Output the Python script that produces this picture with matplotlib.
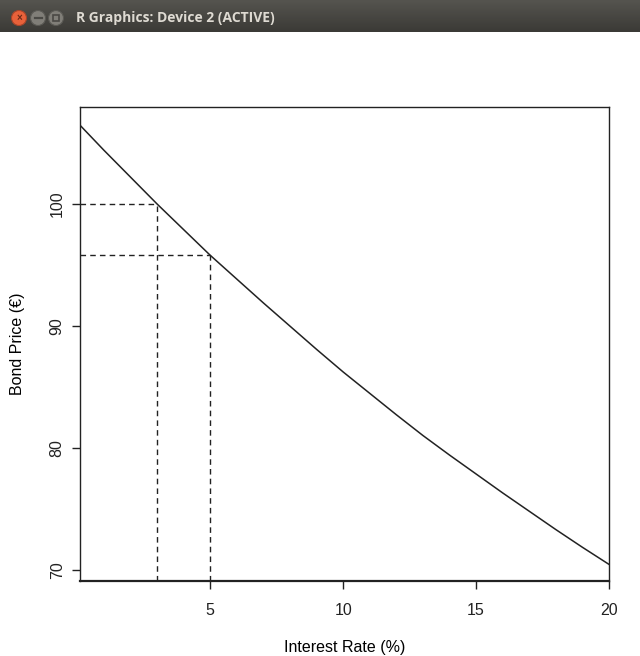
import numpy as np
import matplotlib.pyplot as plt
from matplotlib.patches import Circle

plt.rcParams['font.family'] = ['Liberation Sans', 'DejaVu Sans']

# bond price curve
rate = [0.1, 1, 2, 3, 4, 5, 6, 7, 8, 9, 10, 11, 12, 13, 14, 15, 16, 17, 18, 19, 20]
price = [106.45, 104.4, 102.2, 100.0, 97.9, 95.8, 93.85, 91.9, 90.0, 88.1, 86.25,
         84.5, 82.75, 81.05, 79.45, 77.9, 76.35, 74.85, 73.35, 71.9, 70.5]

# the two marked points (rate, price)
mark_rate = [3, 5]
mark_price = [100.0, 95.8]

x_ticks = [5, 10, 15, 20]
y_ticks = [70, 80, 90, 100]

W, H = 640, 656
fig = plt.figure(figsize=(W / 100, H / 100), dpi=100)
fig.patch.set_facecolor('white')

# window title bar
bar_h = 32
tb = fig.add_axes([0, 1 - bar_h / H, 1, bar_h / H])
tb.set_xlim(0, W)
tb.set_ylim(bar_h, 0)
grad = np.linspace(0, 1, 50).reshape(-1, 1)
tb.imshow(grad, extent=[0, W, bar_h, 0], aspect='auto',
          cmap=plt.matplotlib.colors.LinearSegmentedColormap.from_list('tb', ['#55544f', '#3b3a36']))
tb.add_patch(Circle((19, 18), 7.5, color='#e8613a', ec='#a8452a', lw=0.8))
tb.add_patch(Circle((38, 18), 7.5, color='#807e78', ec='#5a5954', lw=0.8))
tb.add_patch(Circle((56, 18), 7.5, color='#807e78', ec='#5a5954', lw=0.8))
tb.text(19, 18, '×', color='#6b2a18', ha='center', va='center', fontsize=7, fontweight='bold')
tb.plot([34.5, 41.5], [18, 18], color='#4a4945', lw=1.6)
tb.add_patch(plt.Rectangle((53, 15), 6, 6, fill=False, ec='#4a4945', lw=1.2))
tb.text(76, 18, 'R Graphics: Device 2 (ACTIVE)', color='#dedad2', ha='left', va='center',
        fontsize=10, fontweight='bold', family=['Open Sans', 'DejaVu Sans'])
tb.axis('off')

# plot area
left, right, top, bottom = 80, 609, 107, 581
ax = fig.add_axes([left / W, 1 - bottom / H, (right - left) / W, (bottom - top) / H])
ax.plot(rate, price, color='#222222', lw=1.1)
for r, p in zip(mark_rate, mark_price):
    ax.plot([0.1, r], [p, p], color='#222222', lw=1.0, linestyle=(0, (4, 3)))
    ax.plot([r, r], [69.14, p], color='#222222', lw=1.0, linestyle=(0, (4, 3)))

ax.set_xlim(0.1, 20)
ax.set_ylim(69.14, 107.94)
ax.set_xticks(x_ticks)
ax.set_yticks(y_ticks)
ax.tick_params(direction='out', length=6, width=1, labelsize=11.5, colors='#222222')
ax.tick_params(axis='x', pad=10)
ax.tick_params(axis='y', pad=5)
for lab in ax.get_yticklabels():
    lab.set_rotation(90)
    lab.set_va('center')
for s in ax.spines.values():
    s.set_linewidth(1.0)
    s.set_color('#222222')
ax.spines['bottom'].set_linewidth(1.6)

ax.set_xlabel('Interest Rate (%)', fontsize=11.5, labelpad=16)
ax.set_ylabel('Bond Price (€)', fontsize=11.5, labelpad=18)

fig.savefig('out.png', dpi=100)
